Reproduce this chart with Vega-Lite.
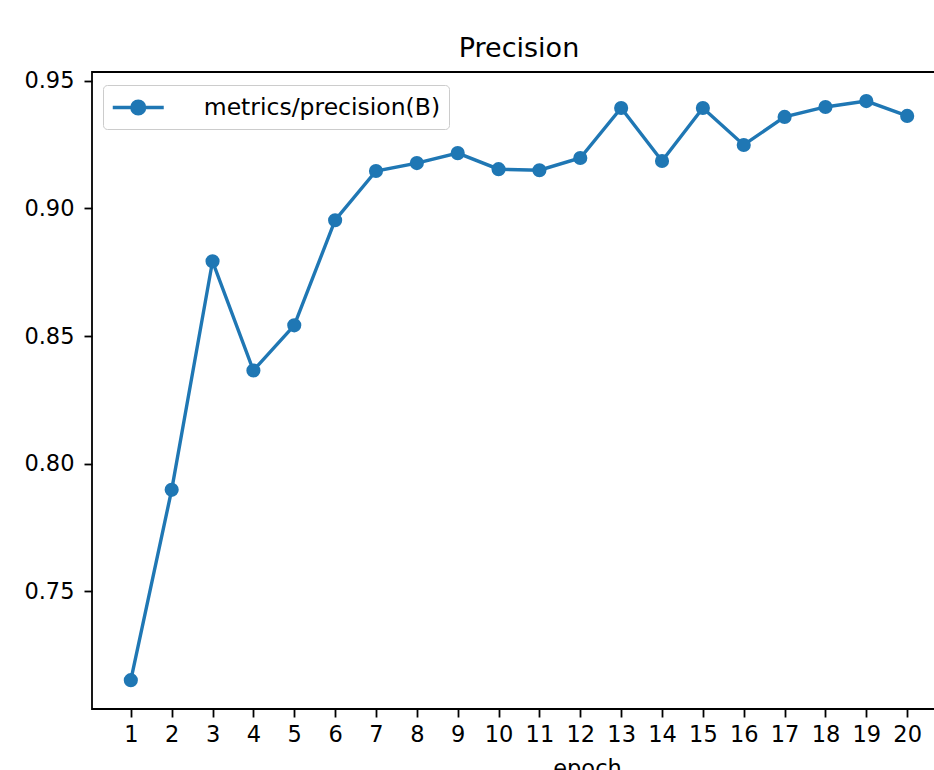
{
  "$schema": "https://vega.github.io/schema/vega-lite/v6.json",
  "autosize": {"type": "none"},
  "padding": {"left": 92, "top": 72, "right": -12, "bottom": 61},
  "width": 854,
  "height": 637,
  "background": "white",
  "title": {"text": "Precision", "font": "DejaVu Sans", "fontSize": 27, "fontWeight": "normal", "color": "black", "anchor": "middle", "baseline": "alphabetic", "offset": -14},
  "data": {"values": [
    {"epoch": 1, "precision": 0.7151, "series": "metrics/precision(B)"},
    {"epoch": 2, "precision": 0.7897, "series": "metrics/precision(B)"},
    {"epoch": 3, "precision": 0.8793, "series": "metrics/precision(B)"},
    {"epoch": 4, "precision": 0.8365, "series": "metrics/precision(B)"},
    {"epoch": 5, "precision": 0.8542, "series": "metrics/precision(B)"},
    {"epoch": 6, "precision": 0.8954, "series": "metrics/precision(B)"},
    {"epoch": 7, "precision": 0.9147, "series": "metrics/precision(B)"},
    {"epoch": 8, "precision": 0.9178, "series": "metrics/precision(B)"},
    {"epoch": 9, "precision": 0.9217, "series": "metrics/precision(B)"},
    {"epoch": 10, "precision": 0.9154, "series": "metrics/precision(B)"},
    {"epoch": 11, "precision": 0.9150, "series": "metrics/precision(B)"},
    {"epoch": 12, "precision": 0.9198, "series": "metrics/precision(B)"},
    {"epoch": 13, "precision": 0.9394, "series": "metrics/precision(B)"},
    {"epoch": 14, "precision": 0.9186, "series": "metrics/precision(B)"},
    {"epoch": 15, "precision": 0.9394, "series": "metrics/precision(B)"},
    {"epoch": 16, "precision": 0.9249, "series": "metrics/precision(B)"},
    {"epoch": 17, "precision": 0.9359, "series": "metrics/precision(B)"},
    {"epoch": 18, "precision": 0.9398, "series": "metrics/precision(B)"},
    {"epoch": 19, "precision": 0.9421, "series": "metrics/precision(B)"},
    {"epoch": 20, "precision": 0.9363, "series": "metrics/precision(B)"}
  ]},
  "encoding": {
    "x": {"field": "epoch", "type": "quantitative",
      "scale": {"domain": [0.05, 20.95], "nice": false, "zero": false},
      "axis": {"values": [1,2,3,4,5,6,7,8,9,10,11,12,13,14,15,16,17,18,19,20], "title": "epoch", "labelPadding": 6, "titlePadding": 12, "titleX": 495, "titleAlign": "center", "labelFlush": false, "labelOverlap": false}},
    "y": {"field": "precision", "type": "quantitative",
      "scale": {"domain": [0.7038, 0.9535], "nice": false, "zero": false},
      "axis": {"values": [0.75, 0.8, 0.85, 0.9, 0.95], "format": ".2f", "title": null, "labelPadding": 10, "labelFlush": false, "labelOverlap": false}},
    "color": {"field": "series", "type": "nominal",
      "scale": {"domain": ["metrics/precision(B)"], "range": ["#1f77b4"]},
      "legend": {"title": null, "orient": "none", "legendX": 11, "legendY": 13,
        "symbolType": "M-2,0H2M-0.5,0A0.5,0.5,0,1,0,0.5,0A0.5,0.5,0,1,0,-0.5,0Z",
        "symbolSize": 650, "symbolOffset": 12.75, "labelOffset": 51,
        "labelFont": "DejaVu Sans", "labelFontSize": 23.5, "labelColor": "black", "labelLimit": 0,
        "padding": 8, "strokeColor": "#cccccc", "fillColor": "white", "cornerRadius": 4,
        "encode": {"symbols": {"update": {"fill": {"value": "#1f77b4"}, "stroke": {"value": "#1f77b4"}, "strokeWidth": {"value": 3.4}, "opacity": {"value": 1}}}}}}
  },
  "layer": [
    {"mark": {"type": "line", "strokeWidth": 3.4}},
    {"mark": {"type": "point", "filled": true, "size": 200, "opacity": 1, "shape": "circle"}}
  ],
  "config": {
    "view": {"stroke": "black", "strokeWidth": 1.8},
    "axis": {"grid": false, "domain": false, "tickColor": "black", "tickWidth": 1.8, "tickSize": 8,
      "labelColor": "black", "labelFont": "DejaVu Sans", "labelFontSize": 22.5,
      "titleFont": "DejaVu Sans", "titleFontSize": 22.5, "titleFontWeight": "normal", "titleColor": "black"}
  }
}
